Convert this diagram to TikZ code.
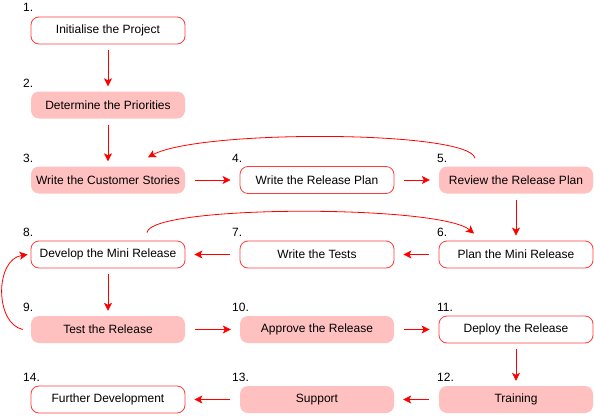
\documentclass[tikz,border=0pt]{standalone}
\usepackage{fontspec}
\setmainfont{Liberation Sans}
\usetikzlibrary{arrows.meta}
\definecolor{pinkfill}{RGB}{255,192,192}
\definecolor{boxline}{RGB}{255,60,60}
\tikzset{
  box/.style={rounded corners=8pt, minimum width=154pt, minimum height=27pt, inner sep=0pt, font=\fontsize{12pt}{14pt}\selectfont, text=black},
  whitebox/.style={box, draw=boxline, line width=0.8pt, fill=white},
  pinkbox/.style={box, draw=none, fill=pinkfill},
  lbl/.style={anchor=base west, inner sep=0pt, font=\fontsize{12pt}{14pt}\selectfont},
  arr/.style={draw=red, line width=0.8pt, -{Stealth[length=8pt,width=8pt,inset=2pt]}},
  varr/.style={arr, shorten <=6pt, shorten >=5pt},
  harr/.style={arr, shorten <=10pt, shorten >=9pt}
}
\begin{document}
\begin{tikzpicture}[x=1pt,y=-1pt]
\useasboundingbox (0,0) rectangle (594,415);
% boxes
\node[whitebox] (n1) at (108,30.5) {Initialise the Project};
\node[pinkbox] (n2) at (108,105) {Determine the Priorities};
\node[pinkbox] (n3) at (108,180) {Write the Customer Stories};
\node[whitebox] (n4) at (317,180) {Write the Release Plan};
\node[pinkbox] (n5) at (516,180) {Review the Release Plan};
\node[whitebox] (n6) at (516,254.5) {Plan the Mini Release};
\node[whitebox] (n7) at (317,254.5) {Write the Tests};
\node[whitebox] (n8) at (108,254.5) {Develop the Mini Release};
\node[pinkbox] (n9) at (108,329.5) {Test the Release};
\node[pinkbox] (n10) at (317,329.5) {Approve the Release};
\node[whitebox] (n11) at (516,329.5) {Deploy the Release};
\node[pinkbox] (n12) at (516,399.5) {Training};
\node[pinkbox] (n13) at (317,399.5) {Support};
\node[whitebox] (n14) at (108,399.5) {Further Development};
% labels
\node[lbl] (l1) at (23,12) {1.};
\node[lbl] (l2) at (23,87) {2.};
\node[lbl] (l3) at (23,162) {3.};
\node[lbl] (l4) at (232,162) {4.};
\node[lbl] (l5) at (437,162) {5.};
\node[lbl] (l6) at (437,236) {6.};
\node[lbl] (l7) at (232,236) {7.};
\node[lbl] (l8) at (23,236) {8.};
\node[lbl] (l9) at (23,311) {9.};
\node[lbl] (l10) at (232,311) {10.};
\node[lbl] (l11) at (437,311) {11.};
\node[lbl] (l12) at (437,381) {12.};
\node[lbl] (l13) at (232,381) {13.};
\node[lbl] (l14) at (23,381) {14.};
% straight connectors
\draw[varr] (n1.south) -- (n2.north);
\draw[varr] (n2.south) -- (n3.north);
\draw[harr] (n3.east) -- (n4.west);
\draw[harr] (n4.east) -- (n5.west);
\draw[varr] (n5.south) -- (n6.north);
\draw[harr] (n6.west) -- (n7.east);
\draw[harr] (n7.west) -- (n8.east);
\draw[varr] (n8.south) -- (n9.north);
\draw[harr] (n9.east) -- (n10.west);
\draw[harr] (n10.east) -- (n11.west);
\draw[varr] (n11.south) -- (n12.north);
\draw[harr] (n12.west) -- (n13.east);
\draw[harr] (n13.west) -- (n14.east);
% curved connectors
\coordinate (c5s) at ([xshift=-41pt,yshift=8pt]n5.north);
\coordinate (c3e) at ([xshift=40pt,yshift=9pt]n3.north);
\draw[arr] (c5s) .. controls +(-5,-28) and +(52,-28) .. (c3e);
\coordinate (c8s) at ([xshift=39pt,yshift=8pt]n8.north);
\coordinate (c6e) at ([xshift=-42pt,yshift=7pt]n6.north);
\draw[arr] (c8s) .. controls +(3,-28) and +(-34,-29) .. (c6e);
\coordinate (c9s) at ([xshift=-8pt]n9.west);
\coordinate (c8e) at ([xshift=-3pt]n8.west);
\draw[arr] (c9s) .. controls +(-28,-6) and +(-33,5) .. (c8e);
\end{tikzpicture}
\end{document}
